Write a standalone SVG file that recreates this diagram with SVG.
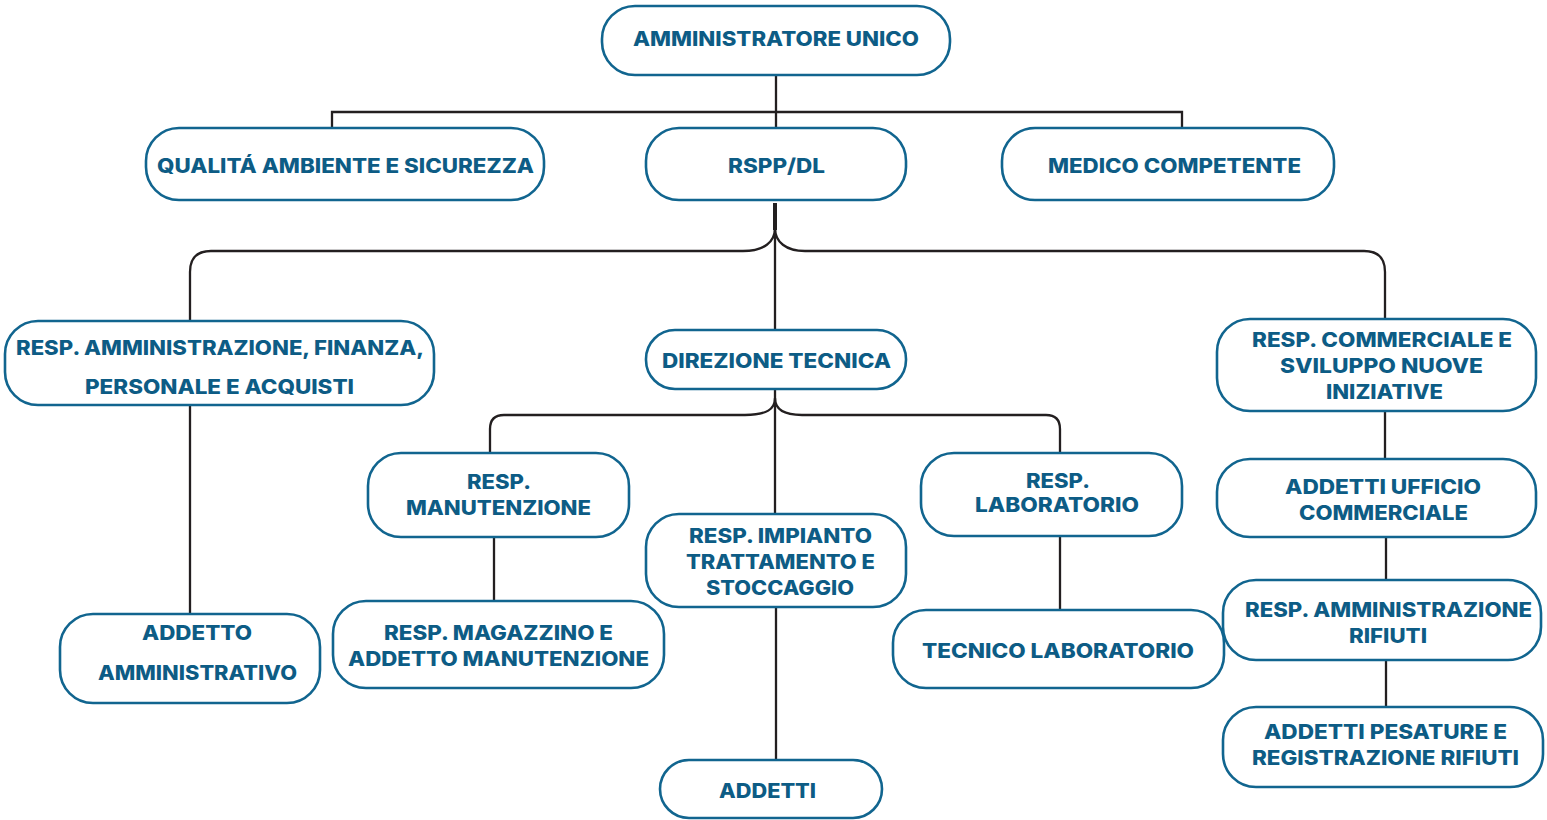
<svg xmlns="http://www.w3.org/2000/svg" width="1547" height="820" viewBox="0 0 1547 820">
<style>
.box{fill:#fff;stroke:#11658f;stroke-width:2.6}
.t{font-family:Inter,"Open Sans","Liberation Sans",sans-serif;font-weight:800;font-size:20px;fill:#0d5c85;text-anchor:middle}
.c{fill:none;stroke:#231f20;stroke-width:2.3}
</style>
<rect width="1547" height="820" fill="#fff"/>
<g id="connectors">
<path class="c" d="M776,75 V128 M332,128 V112 H1182 V128"/>
<path class="c" d="M775,203 V230" style="stroke-width:4"/>
<path class="c" d="M190,322 V272 Q190,251 211,251 H743 C764,251 775,242 775,228 C775,242 786,251 805,251 H1364 Q1385,251 1385,272 V320"/>
<path class="c" d="M775,230 V330"/>
<path class="c" d="M190,405 V614"/>
<path class="c" d="M490,453 V429 Q490,415 504,415 H745 C767,415 775,409 775,398 C775,409 783,415 802,415 H1046 Q1060,415 1060,429 V453"/>
<path class="c" d="M775,389 V514"/>
<path class="c" d="M494,537 V601"/>
<path class="c" d="M1060,536 V610"/>
<path class="c" d="M776,607 V760"/>
<path class="c" d="M1385,411 V459"/>
<path class="c" d="M1386,537 V580"/>
<path class="c" d="M1386,660 V707"/>
</g>
<g id="n-amministratore">
<rect class="box" x="602" y="6" width="348" height="69" rx="33"/>
<text class="t" x="776" y="46" textLength="286" lengthAdjust="spacingAndGlyphs">AMMINISTRATORE UNICO</text>
</g>
<g id="n-qualita">
<rect class="box" x="146" y="128" width="398" height="72" rx="33"/>
<text class="t" x="345.5" y="173" textLength="377" lengthAdjust="spacingAndGlyphs">QUALITÁ AMBIENTE E SICUREZZA</text>
</g>
<g id="n-rspp">
<rect class="box" x="646" y="128" width="260" height="72" rx="33"/>
<text class="t" x="776.5" y="173" textLength="97" lengthAdjust="spacingAndGlyphs">RSPP/DL</text>
</g>
<g id="n-medico">
<rect class="box" x="1002" y="128" width="332" height="72" rx="33"/>
<text class="t" x="1174.5" y="173" textLength="253" lengthAdjust="spacingAndGlyphs">MEDICO COMPETENTE</text>
</g>
<g id="n-amm-finanza">
<rect class="box" x="5" y="321" width="429" height="84" rx="33"/>
<text class="t" x="220" y="355" textLength="408" lengthAdjust="spacingAndGlyphs">RESP. AMMINISTRAZIONE, FINANZA,</text>
<text class="t" x="219.5" y="394" textLength="269" lengthAdjust="spacingAndGlyphs">PERSONALE E ACQUISTI</text>
</g>
<g id="n-direzione">
<rect class="box" x="646" y="330" width="260" height="59" rx="29"/>
<text class="t" x="776.5" y="368" textLength="229" lengthAdjust="spacingAndGlyphs">DIREZIONE TECNICA</text>
</g>
<g id="n-commerciale">
<rect class="box" x="1217" y="319" width="319" height="92" rx="33"/>
<text class="t" x="1382" y="347" textLength="260" lengthAdjust="spacingAndGlyphs">RESP. COMMERCIALE E</text>
<text class="t" x="1381.5" y="373" textLength="203" lengthAdjust="spacingAndGlyphs">SVILUPPO NUOVE</text>
<text class="t" x="1384.5" y="399" textLength="117" lengthAdjust="spacingAndGlyphs">INIZIATIVE</text>
</g>
<g id="n-addetto-amm">
<rect class="box" x="60" y="614" width="260" height="89" rx="33"/>
<text class="t" x="197" y="640" textLength="110" lengthAdjust="spacingAndGlyphs">ADDETTO</text>
<text class="t" x="197.5" y="680" textLength="199" lengthAdjust="spacingAndGlyphs">AMMINISTRATIVO</text>
</g>
<g id="n-manutenzione">
<rect class="box" x="368" y="453" width="261" height="84" rx="33"/>
<text class="t" x="499" y="489" textLength="64" lengthAdjust="spacingAndGlyphs">RESP.</text>
<text class="t" x="498.5" y="515" textLength="185" lengthAdjust="spacingAndGlyphs">MANUTENZIONE</text>
</g>
<g id="n-impianto">
<rect class="box" x="646" y="514" width="260" height="93" rx="33"/>
<text class="t" x="780.5" y="543" textLength="183" lengthAdjust="spacingAndGlyphs">RESP. IMPIANTO</text>
<text class="t" x="780.5" y="569" textLength="189" lengthAdjust="spacingAndGlyphs">TRATTAMENTO E</text>
<text class="t" x="780" y="595" textLength="148" lengthAdjust="spacingAndGlyphs">STOCCAGGIO</text>
</g>
<g id="n-laboratorio">
<rect class="box" x="921" y="453" width="261" height="83" rx="33"/>
<text class="t" x="1058" y="488" textLength="64" lengthAdjust="spacingAndGlyphs">RESP.</text>
<text class="t" x="1057" y="512" textLength="164" lengthAdjust="spacingAndGlyphs">LABORATORIO</text>
</g>
<g id="n-magazzino">
<rect class="box" x="333" y="601" width="331" height="87" rx="33"/>
<text class="t" x="498.5" y="640" textLength="229" lengthAdjust="spacingAndGlyphs">RESP. MAGAZZINO E</text>
<text class="t" x="498.5" y="666" textLength="301" lengthAdjust="spacingAndGlyphs">ADDETTO MANUTENZIONE</text>
</g>
<g id="n-tecnico-lab">
<rect class="box" x="893" y="610" width="331" height="78" rx="33"/>
<text class="t" x="1058" y="658" textLength="272" lengthAdjust="spacingAndGlyphs">TECNICO LABORATORIO</text>
</g>
<g id="n-addetti">
<rect class="box" x="660" y="760" width="222" height="58" rx="29"/>
<text class="t" x="767.5" y="798" textLength="97" lengthAdjust="spacingAndGlyphs">ADDETTI</text>
</g>
<g id="n-ufficio-comm">
<rect class="box" x="1217" y="459" width="319" height="78" rx="33"/>
<text class="t" x="1383" y="494" textLength="196" lengthAdjust="spacingAndGlyphs">ADDETTI UFFICIO</text>
<text class="t" x="1383.5" y="520" textLength="169" lengthAdjust="spacingAndGlyphs">COMMERCIALE</text>
</g>
<g id="n-amm-rifiuti">
<rect class="box" x="1223" y="580" width="318" height="80" rx="33"/>
<text class="t" x="1388.5" y="617" textLength="287" lengthAdjust="spacingAndGlyphs">RESP. AMMINISTRAZIONE</text>
<text class="t" x="1388" y="643" textLength="78" lengthAdjust="spacingAndGlyphs">RIFIUTI</text>
</g>
<g id="n-pesature">
<rect class="box" x="1223" y="707" width="320" height="80" rx="33"/>
<text class="t" x="1385.5" y="739" textLength="243" lengthAdjust="spacingAndGlyphs">ADDETTI PESATURE E</text>
<text class="t" x="1385.5" y="765" textLength="267" lengthAdjust="spacingAndGlyphs">REGISTRAZIONE RIFIUTI</text>
</g>
</svg>
